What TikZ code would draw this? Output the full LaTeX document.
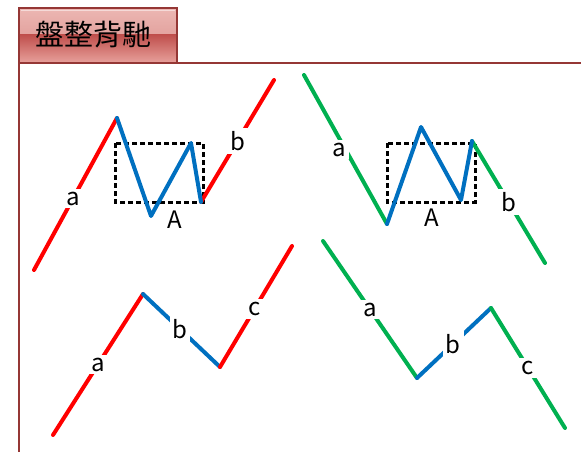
\documentclass[tikz,border=0pt]{standalone}
\usepackage{fontspec}
\setmainfont{Noto Sans CJK TC}
\usetikzlibrary{positioning}

\definecolor{legred}{RGB}{255,0,0}
\definecolor{leggreen}{RGB}{0,176,80}
\definecolor{legblue}{RGB}{0,112,192}
\definecolor{framebrown}{RGB}{149,55,53}
\definecolor{tabtop}{RGB}{236,183,179}
\definecolor{tabmid}{RGB}{192,80,77}
\definecolor{tabbot}{RGB}{230,158,153}

\begin{document}
\begin{tikzpicture}[x=1pt,y=-1pt,
  leg/.style={line width=4pt,line cap=round,line join=round},
  lbl/.style={fill=white,text=black,inner sep=3pt,font=\fontsize{24}{24}\selectfont},
  zone/.style={black,line width=3pt,dash pattern=on 5pt off 3pt}]
\useasboundingbox (0,0) rectangle (581,452);
% title tab
\shade[top color=tabtop,bottom color=tabtop!80!tabmid] (19,8) rectangle (177,35);
\shade[top color=tabmid,bottom color=tabbot] (19,35) rectangle (177,62);
\draw[white,opacity=0.5,line width=1pt] (21,11) -- (175,11);
\draw[framebrown,line width=1.5pt] (19,62) -- (19,8) -- (177,8) -- (177,62);
\node[font=\fontsize{29}{29}\selectfont] (title) at (93,35) {盤整背馳};
% frame
\draw[framebrown,line width=1.8pt] (19,452) -- (19,63) -- (581,63);

% top left: a up, A range, b up
\coordinate (p0) at (34,270); \coordinate (p1) at (117,118);
\coordinate (p2) at (151,216); \coordinate (p3) at (191,143);
\coordinate (p4) at (201,202); \coordinate (p5) at (274,80);
\coordinate (zoneL1) at (115,143); \coordinate (zoneL2) at (203,202);
\draw[zone] (zoneL1) rectangle (zoneL2);
\draw[leg,legred] (p0) -- node[lbl,pos=0.47] (aL) {a} (p1);
\draw[leg,legred] (p4) -- node[lbl,pos=0.5] (bL) {b} (p5);
\draw[leg,legblue] (p1) -- (p2) -- (p3) -- (p4);
\node[lbl,fill=none] (AL) at (175,220) {A};

% top right: a down, A range, b down
\coordinate (q0) at (304,75); \coordinate (q1) at (387,224);
\coordinate (q2) at (421,127); \coordinate (q3) at (461,200);
\coordinate (q4) at (472,141); \coordinate (q5) at (545,263);
\coordinate (zoneR1) at (387,143); \coordinate (zoneR2) at (475,202);
\draw[zone] (zoneR1) rectangle (zoneR2);
\draw[leg,leggreen] (q0) -- node[lbl,pos=0.5,xshift=-6pt] (aR) {a} (q1);
\draw[leg,leggreen] (q4) -- node[lbl,pos=0.5] (bR) {b} (q5);
\draw[leg,legblue] (q1) -- (q2) -- (q3) -- (q4);
\node[lbl,fill=none] (AR) at (432,218) {A};

% bottom left: a b c up
\coordinate (r0) at (53,435); \coordinate (r1) at (143,294);
\coordinate (r2) at (220,367); \coordinate (r3) at (292,246);
\draw[leg,legred] (r0) -- node[lbl,pos=0.5] (aBL) {a} (r1);
\draw[leg,legblue] (r1) -- node[lbl,pos=0.48] (bBL) {b} (r2);
\draw[leg,legred] (r2) -- node[lbl,pos=0.48] (cBL) {c} (r3);

% bottom right: a b c down
\coordinate (s0) at (323,241); \coordinate (s1) at (417,378);
\coordinate (s2) at (491,308); \coordinate (s3) at (565,428);
\draw[leg,leggreen] (s0) -- node[lbl,pos=0.5] (aBR) {a} (s1);
\draw[leg,legblue] (s1) -- node[lbl,pos=0.49] (bBR) {b} (s2);
\draw[leg,leggreen] (s2) -- node[lbl,pos=0.5] (cBR) {c} (s3);
\end{tikzpicture}
\end{document}
